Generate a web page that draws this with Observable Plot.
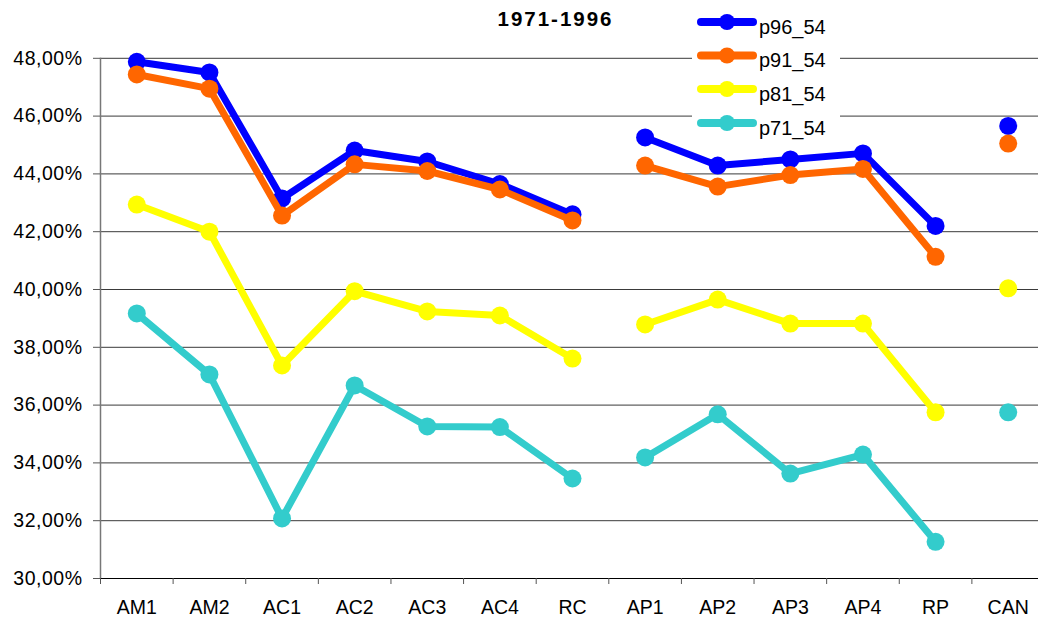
<!DOCTYPE html>
<html>
<head>
<meta charset="utf-8">
<script src="https://cdn.jsdelivr.net/npm/d3@7"></script>
<script src="https://cdn.jsdelivr.net/npm/@observablehq/plot@0.6"></script>
<style>
  html, body { margin: 0; padding: 0; background: #fff; overflow: hidden; }
  #wrap { position: relative; width: 1038px; height: 618px; font-family: "Liberation Sans", Arial, sans-serif; }
  #legend { position: absolute; left: 692px; top: 0px; background: #fff; }
</style>
</head>
<body>
<div id="wrap"></div>
<script>
const title = "1971-1996";
const categories = ["AM1","AM2","AC1","AC2","AC3","AC4","RC","AP1","AP2","AP3","AP4","RP","CAN"];
// which connected segment of the line each category belongs to
const segments = [0,0,0,0,0,0,0,1,1,1,1,1,2];
const seriesNames = ["p96_54","p91_54","p81_54","p71_54"];
const seriesColors = ["#0000FF","#FF6600","#FFFF00","#33CCCC"];
const p96_54 = [47.88, 47.51, 43.15, 44.81, 44.43, 43.65, 42.60, 45.26, 44.29, 44.50, 44.71, 42.20, 45.66];
const p91_54 = [47.44, 46.95, 42.56, 44.33, 44.10, 43.46, 42.39, 44.29, 43.56, 43.96, 44.17, 41.13, 45.05];
const p81_54 = [42.94, 42.00, 37.37, 39.94, 39.24, 39.10, 37.61, 38.79, 39.65, 38.82, 38.82, 35.75, 40.04];
const p71_54 = [39.17, 37.06, 32.08, 36.68, 35.26, 35.24, 33.46, 34.19, 35.68, 33.63, 34.29, 31.27, 35.75];
const seriesValues = [p96_54, p91_54, p81_54, p71_54];
const yTicks = [30, 32, 34, 36, 38, 40, 42, 44, 46, 48];

const font = "Liberation Sans, Arial, sans-serif";
const marks = [];
marks.push(Plot.gridY(yTicks, {stroke: "#3a3a3a", strokeOpacity: 1, strokeWidth: 1}));
marks.push(Plot.ruleX([-0.5], {y1: 30, y2: 48, stroke: "#777", strokeWidth: 1.5}));
marks.push(Plot.ruleY([30], {stroke: "#000", strokeWidth: 1}));
marks.push(Plot.axisY({ticks: yTicks, tickSize: 7, tickPadding: 11, fontSize: 19.5, label: null,
  tickFormat: d => d.toFixed(2).replace(".", ",") + "%", stroke: "#555"}));
marks.push(Plot.axisX({ticks: d3.range(-0.5, 12, 1), tickSize: 6, tickFormat: () => "", label: null, stroke: "#555"}));
marks.push(Plot.axisX({ticks: d3.range(0, 13), tickSize: 0, tickPadding: 22, fontSize: 19.5, label: null,
  tickFormat: i => categories[i]}));

seriesNames.forEach((name, s) => {
  const rows = categories.map((c, i) => ({i, v: seriesValues[s][i], g: segments[i]}));
  marks.push(Plot.line(rows, {x: "i", y: "v", z: "g", stroke: seriesColors[s], strokeWidth: 7, strokeLinejoin: "round"}));
  marks.push(Plot.dot(rows, {x: "i", y: "v", r: 9, fill: seriesColors[s], stroke: "none"}));
});

marks.push(Plot.text([title], {frameAnchor: "top", dx: -17, dy: 11, lineAnchor: "top",
  fontWeight: "bold", fontSize: 20.5, fill: "#000"}));

const chart = Plot.plot({
  width: 1038,
  height: 618,
  marginLeft: 100,
  marginRight: -6,
  marginTop: 0,
  marginBottom: 40,
  style: {fontFamily: font, color: "#000", background: "#fff"},
  x: {type: "linear", domain: [-0.5, 12.5]},
  y: {type: "linear", domain: [30, 50]},
  marks
});
document.getElementById("wrap").appendChild(chart);
d3.select(chart).selectAll("text").filter(function() { return this.textContent === title; })
  .attr("letter-spacing", "2px").style("letter-spacing", "2px");
d3.select(chart).selectAll('g[aria-label="y-axis tick label"] text').attr("letter-spacing", "0.5px");

// legend
const lg = d3.select("#wrap").append("svg")
  .attr("id", "legend").attr("width", 148).attr("height", 140);
const rowY = [22, 55.5, 89, 123];
seriesNames.forEach((name, s) => {
  const g = lg.append("g").attr("transform", `translate(0,${rowY[s]})`);
  g.append("line").attr("x1", 9).attr("x2", 61).attr("y1", 0).attr("y2", 0)
    .attr("stroke", seriesColors[s]).attr("stroke-width", 8).attr("stroke-linecap", "round");
  g.append("circle").attr("cx", 35).attr("cy", 0).attr("r", 8).attr("fill", seriesColors[s]);
  g.append("text").attr("x", 67).attr("y", 11.5).attr("font-size", 20).attr("font-family", font)
    .attr("fill", "#000").text(name);
});
</script>
</body>
</html>
